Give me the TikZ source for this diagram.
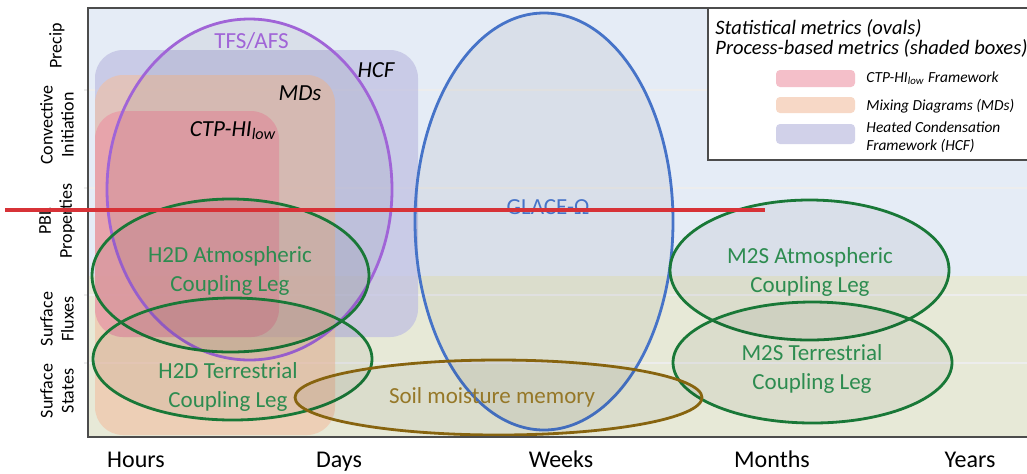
\documentclass[tikz,border=0pt]{standalone}
\usepackage{fontspec}
\setmainfont{Carlito}
\usepackage{tikz}
\usetikzlibrary{shapes.geometric,positioning}

\definecolor{sky}{RGB}{229,236,246}
\definecolor{land}{RGB}{231,233,215}
\definecolor{hcfc}{RGB}{190,190,225}
\definecolor{mdsc}{RGB}{242,190,160}
\definecolor{ctpc}{RGB}{236,140,158}
\definecolor{tfsc}{RGB}{160,100,215}
\definecolor{glacec}{RGB}{70,115,200}
\definecolor{coupc}{RGB}{25,120,55}
\definecolor{coupt}{RGB}{45,140,80}
\definecolor{soilc}{RGB}{135,100,15}
\definecolor{soilt}{RGB}{150,120,40}
\definecolor{redline}{RGB}{215,50,55}

\begin{document}
\begin{tikzpicture}
	[x=0.5pt,y=-0.5pt,
	oval/.style={ellipse,draw,line width=1.4pt,fill=black,fill opacity=0.05,
		inner sep=0pt},
	box1/.style={fill=hcfc,fill opacity=0.7,rounded corners=14pt},
	box2/.style={fill=mdsc,fill opacity=0.6,rounded corners=14pt},
	box3/.style={fill=ctpc,fill opacity=0.55,rounded corners=14pt},
	lab/.style={font=\fontsize{11.5}{14.5}\selectfont,align=center,inner sep=0pt},
	lab1/.style={font=\itshape\fontsize{11.5}{14}\selectfont,inner sep=0pt},
	axis/.style={font=\fontsize{9}{10.5}\selectfont,align=center,rotate=90,
		inner sep=0pt},
	tick/.style={font=\fontsize{12}{14}\selectfont,anchor=base,inner sep=0pt},
	key/.style={font=\itshape\fontsize{7.7}{9}\selectfont,anchor=base west,
		align=left,inner sep=0pt},
	head/.style={font=\itshape\fontsize{10.25}{8.5}\selectfont,anchor=base west,
		inner sep=0pt}]
\useasboundingbox (0,0) rectangle (1027,473);
%fondo
\fill[sky] (88,8) rectangle (1030,276);
\fill[land] (88,276) rectangle (1030,437);
\foreach \y in {90,188,295,363}
	\draw[black!7,line width=0.6pt] (84,\y) -- (1030,\y);
%cajas de procesos
\fill[box1] (95,50) rectangle (418,337);
\fill[box2] (95,75) rectangle (335,435);
\fill[box3] (95,111) rectangle (279,337);
\node (hcflab) at (376,70) [lab1] {HCF};
\node (mdslab) at (300,93) [lab1] {MDs};
\node (ctplab) at (233,136) [lab1,anchor=base] {CTP-HI\textsubscript{low}};
%ovalos
\node (tfs) at (249.5,189.5) [oval,draw=tfsc,minimum width=142.5pt,minimum height=170.5pt] {};
\node (glace) at (544,221.5) [oval,draw=glacec,minimum width=129pt,minimum height=208.5pt] {};
\node (h2da) at (230.5,275.5) [oval,draw=coupc,minimum width=138.5pt,minimum height=76.5pt] {};
\node (h2dt) at (232.5,359) [oval,draw=coupc,minimum width=139.5pt,minimum height=61pt] {};
\node (m2sa) at (809.5,270) [oval,draw=coupc,minimum width=139.5pt,minimum height=70pt] {};
\node (m2st) at (812.5,362.5) [oval,draw=coupc,minimum width=139.5pt,minimum height=60.5pt] {};
\node (soil) at (498.5,397.5) [oval,draw=soilc,minimum width=203.5pt,minimum height=37.5pt] {};
\node (tfslab) at (251.5,41) [lab,text=tfsc] {TFS/AFS};
\node (glacelab) at (548,207) [lab,text=glacec] {GLACE-Ω};
\node (h2dalab) at (230,271) [lab,text=coupt] {H2D Atmospheric\\Coupling Leg};
\node (h2dtlab) at (228,387) [lab,text=coupt] {H2D Terrestrial\\Coupling Leg};
\node (m2salab) at (810,272) [lab,text=coupt] {M2S Atmospheric\\Coupling Leg};
\node (m2stlab) at (812,369) [lab,text=coupt] {M2S Terrestrial\\Coupling Leg};
\node (soillab) at (492,397) [lab,text=soilt] {Soil moisture memory};
%marco
\draw[black!70,line width=0.8pt] (88,8) rectangle (1030,437);
%leyenda
\draw[black!70,fill=white,line width=0.6pt] (708,8) rectangle (1030,160);
\node (head1) at (715,34) [head] {Statistical metrics (ovals)};
\node (head2) at (715,54) [head] {Process-based metrics (shaded boxes)};
\fill[box3,rounded corners=2pt] (776,70) rectangle (855,87);
\fill[box2,rounded corners=2pt] (776,97) rectangle (855,113);
\fill[box1,rounded corners=2pt] (776,124) rectangle (855,144);
\node (key1) at (866,82) [key] {CTP-HI\textsubscript{low} Framework};
\node (key2) at (866,110) [key] {Mixing Diagrams (MDs)};
\node (key3) at (866,150) [key] {Heated Condensation\\Framework (HCF)};
%ejes
\node (precip) at (57,46) [axis] {Precip};
\node (conv) at (57,125) [axis] {Convective\\Initiation};
\node (pbl) at (57,221) [axis] {PBL\\Properties};
\node (flux) at (57,319) [axis] {Surface\\Fluxes};
\node (state) at (57,391) [axis] {Surface\\States};
\node (hours) at (136,467) [tick] {Hours};
\node (days) at (339,467) [tick] {Days};
\node (weeks) at (561,467) [tick] {Weeks};
\node (months) at (772,467) [tick] {Months};
\node (years) at (970,467) [tick] {Years};
%linea roja
\coordinate (r0) at (5,210);
\coordinate (r1) at (765,210);
\draw[redline,line width=2pt] (r0) -- (r1);
\end{tikzpicture}
\end{document}
